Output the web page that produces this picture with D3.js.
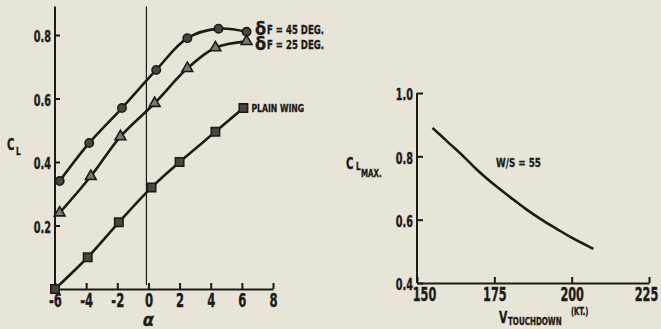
<!DOCTYPE html>
<html>
<head>
<meta charset="utf-8">
<script src="https://cdn.jsdelivr.net/npm/d3@7"></script>
<style>
  html, body { margin: 0; padding: 0; background: #e8e4d8; }
  svg { display: block; }
  text { font-family: "Liberation Sans Narrow", "DejaVu Sans Condensed", sans-serif; font-weight: bold; fill: #1d1b18; stroke: #1d1b18; stroke-width: 0.35px; }
</style>
</head>
<body>
<div id="chart"></div>
<script>
// left panel: lift curve vs angle of attack
const alphaTicks = [-6, -4, -2, 0, 2, 4, 6, 8];
const clTicks = [0.2, 0.4, 0.6, 0.8];
const flap45Alpha = [-5.7, -3.8, -1.7, 0.5, 2.5, 4.5, 6.3];
const flap45CL = [0.34, 0.46, 0.57, 0.69, 0.79, 0.82, 0.81];
const flap25Alpha = [-5.7, -3.7, -1.8, 0.4, 2.5, 4.3, 6.3];
const flap25CL = [0.24, 0.355, 0.48, 0.585, 0.695, 0.76, 0.78];
const plainAlpha = [-6, -3.9, -1.9, 0.2, 2.0, 4.3, 6.1];
const plainCL = [0, 0.1, 0.21, 0.32, 0.40, 0.495, 0.57];

// right panel: CLmax vs touchdown speed
const vTicks = [150, 175, 200, 225];
const clMaxTicks = [0.4, 0.6, 0.8, 1.0];
const vTouch = [155, 160, 165, 170, 175, 180, 185, 190, 195, 200, 207];
const clMax = [0.89, 0.845, 0.80, 0.752, 0.71, 0.672, 0.635, 0.602, 0.572, 0.543, 0.508];

const W = 661, H = 329;
const ink = "#1d1b18";

const svg = d3.select("#chart").append("svg")
  .attr("width", W)
  .attr("height", H);

svg.append("rect").attr("width", W).attr("height", H).attr("fill", "#e8e4d8");

// squeeze text horizontally so it looks like the condensed type of the scan
function condense(sel, k) {
  sel.each(function() {
    const len = this.getComputedTextLength();
    d3.select(this).attr("textLength", len * k).attr("lengthAdjust", "spacingAndGlyphs");
  });
}

// ---------- left chart ----------
const x = d3.scaleLinear().domain([-6, 8]).range([55, 273]);
const y = d3.scaleLinear().domain([0, 0.8]).range([289, 35]);

const left = svg.append("g");

// y axis line + ticks pointing inward
left.append("line")
  .attr("x1", x(-6)).attr("x2", x(-6))
  .attr("y1", y(0)).attr("y2", y(0.89))
  .attr("stroke", ink).attr("stroke-width", 2);

left.append("g")
  .attr("transform", `translate(${x(-6)},0)`)
  .call(d3.axisLeft(y).tickValues(clTicks).tickSize(-5).tickPadding(4).tickFormat(d3.format(".1f")))
  .call(g => g.select(".domain").remove())
  .call(g => g.selectAll("line").attr("stroke", ink).attr("stroke-width", 2))
  .call(g => g.selectAll("text").attr("font-size", 15).attr("dy", "0.45em")
    .attr("font-family", null).attr("fill", ink))
  .call(g => condense(g.selectAll("text"), 0.72));

// x axis
left.append("g")
  .attr("transform", `translate(0,${y(0)})`)
  .call(d3.axisBottom(x).tickValues(alphaTicks).tickSize(-6).tickSizeOuter(0).tickPadding(5).tickFormat(d => d < 0 ? "-" + Math.abs(d) : d))
  .call(g => g.select(".domain").attr("stroke", ink).attr("stroke-width", 2))
  .call(g => g.selectAll("line").attr("stroke", ink).attr("stroke-width", 2))
  .call(g => g.selectAll("text").attr("font-size", 19).attr("dy", "0.7em")
    .attr("font-family", null).attr("fill", ink))
  .call(g => condense(g.selectAll("text"), 0.68));

// alpha = 0 reference line
left.append("line")
  .attr("x1", x(0) - 2).attr("x2", x(0) - 2)
  .attr("y1", y(0.89)).attr("y2", y(0) - 4)
  .attr("stroke", ink).attr("stroke-width", 1.2);

const lineGen = d3.line()
  .x(d => x(d[0]))
  .y(d => y(d[1]))
  .curve(d3.curveCatmullRom.alpha(0.5));

const series = [
  { a: flap45Alpha, c: flap45CL, mark: "circle" },
  { a: flap25Alpha, c: flap25CL, mark: "triangle" },
  { a: plainAlpha, c: plainCL, mark: "square" }
];

series.forEach(s => {
  const pts = s.a.map((a, i) => [a, s.c[i]]);
  left.append("path")
    .datum(pts)
    .attr("d", lineGen)
    .attr("fill", "none")
    .attr("stroke", ink)
    .attr("stroke-width", 2.6);

  const sym = s.mark === "circle" ? d3.symbolCircle : s.mark === "triangle" ? d3.symbolTriangle : d3.symbolSquare;
  const size = s.mark === "circle" ? 55 : s.mark === "triangle" ? 50 : 70;
  left.selectAll(null)
    .data(pts)
    .join("path")
    .attr("transform", d => `translate(${x(d[0])},${y(d[1])})`)
    .attr("d", d3.symbol().type(sym).size(size))
    .attr("fill", s.mark === "triangle" ? "#7c786e" : "#4a4740")
    .attr("stroke", ink)
    .attr("stroke-width", 1.6);
});

// series labels
const flapLabels = ["F = 45 DEG.", "F = 25 DEG."];
flapLabels.forEach((txt, i) => {
  left.append("text")
    .attr("x", 255)
    .attr("y", 35 + i * 15)
    .attr("font-size", 18)
    .attr("font-weight", "normal")
    .attr("font-family", "DejaVu Serif, serif")
    .text("δ");
  left.append("text")
    .attr("x", 267)
    .attr("y", 34 + i * 15)
    .attr("font-size", 12.5)
    .text(txt)
    .call(t => condense(t, 0.76));
});

left.append("text")
  .attr("x", x(plainAlpha[6]) + 8)
  .attr("y", y(plainCL[6]) + 4)
  .attr("font-size", 11)
  .text("PLAIN WING")
  .call(t => condense(t, 0.78));

// axis titles
left.append("text").attr("x", 7).attr("y", 150).attr("font-size", 15).text("C")
  .call(t => condense(t, 0.75));
left.append("text").attr("x", 16).attr("y", 155).attr("font-size", 10).text("L")
  .call(t => condense(t, 0.8));

left.append("text")
  .attr("x", x(0))
  .attr("y", 326)
  .attr("text-anchor", "middle")
  .attr("font-family", "DejaVu Serif, serif")
  .attr("font-style", "italic")
  .attr("font-weight", "normal")
  .attr("font-size", 18)
  .text("α");

// ---------- right chart ----------
const xr = d3.scaleLinear().domain([150, 225]).range([417, 649]);
const yr = d3.scaleLinear().domain([0.4, 1.0]).range([283, 93]);

const right = svg.append("g");

right.append("line")
  .attr("x1", xr(150)).attr("x2", xr(150))
  .attr("y1", yr(0.4)).attr("y2", yr(1.0))
  .attr("stroke", ink).attr("stroke-width", 2);

right.append("g")
  .attr("transform", `translate(${xr(150)},0)`)
  .call(d3.axisLeft(yr).tickValues(clMaxTicks).tickSize(-6).tickPadding(4).tickFormat(d3.format(".1f")))
  .call(g => g.select(".domain").remove())
  .call(g => g.selectAll("line").attr("stroke", ink).attr("stroke-width", 2))
  .call(g => g.selectAll("text").attr("font-size", 15).attr("dy", "0.45em")
    .attr("font-family", null).attr("fill", ink))
  .call(g => condense(g.selectAll("text"), 0.72));

right.append("g")
  .attr("transform", `translate(0,${yr(0.4)})`)
  .call(d3.axisBottom(xr).tickValues(vTicks).tickSize(-6).tickSizeOuter(0).tickPadding(5))
  .call(g => g.select(".domain").attr("stroke", ink).attr("stroke-width", 2))
  .call(g => g.selectAll("line").attr("stroke", ink).attr("stroke-width", 2))
  .call(g => g.selectAll("text").attr("font-size", 19).attr("dy", "0.7em")
    .attr("font-family", null).attr("fill", ink)
    .attr("dx", d => d === 150 ? 7 : d === 225 ? -3 : 0))
  .call(g => condense(g.selectAll("text"), 0.66));

const lineR = d3.line()
  .x(d => xr(d[0]))
  .y(d => yr(d[1]))
  .curve(d3.curveCatmullRom.alpha(0.5));

right.append("path")
  .datum(vTouch.map((v, i) => [v, clMax[i]]))
  .attr("d", lineR)
  .attr("fill", "none")
  .attr("stroke", ink)
  .attr("stroke-width", 2.6);

right.append("text")
  .attr("x", 496)
  .attr("y", 167)
  .attr("font-size", 12.5)
  .text("W/S = 55")
  .call(t => condense(t, 0.78));

// C_L MAX. title
right.append("text").attr("x", 346).attr("y", 169).attr("font-size", 15).text("C")
  .call(t => condense(t, 0.75));
right.append("text").attr("x", 356).attr("y", 170).attr("font-size", 10).text("L")
  .call(t => condense(t, 0.8));
right.append("text").attr("x", 361).attr("y", 177).attr("font-size", 11).text("MAX.")
  .call(t => condense(t, 0.72));

// V TOUCHDOWN (KT.) title
right.append("text").attr("x", 499).attr("y", 323).attr("font-size", 16).text("V")
  .call(t => condense(t, 0.75));
right.append("text").attr("x", 508).attr("y", 325).attr("font-size", 11).text("TOUCHDOWN")
  .call(t => condense(t, 0.72));
right.append("text").attr("x", 571).attr("y", 315).attr("font-size", 10).text("(KT.)")
  .call(t => condense(t, 0.75));
</script>
</body>
</html>
